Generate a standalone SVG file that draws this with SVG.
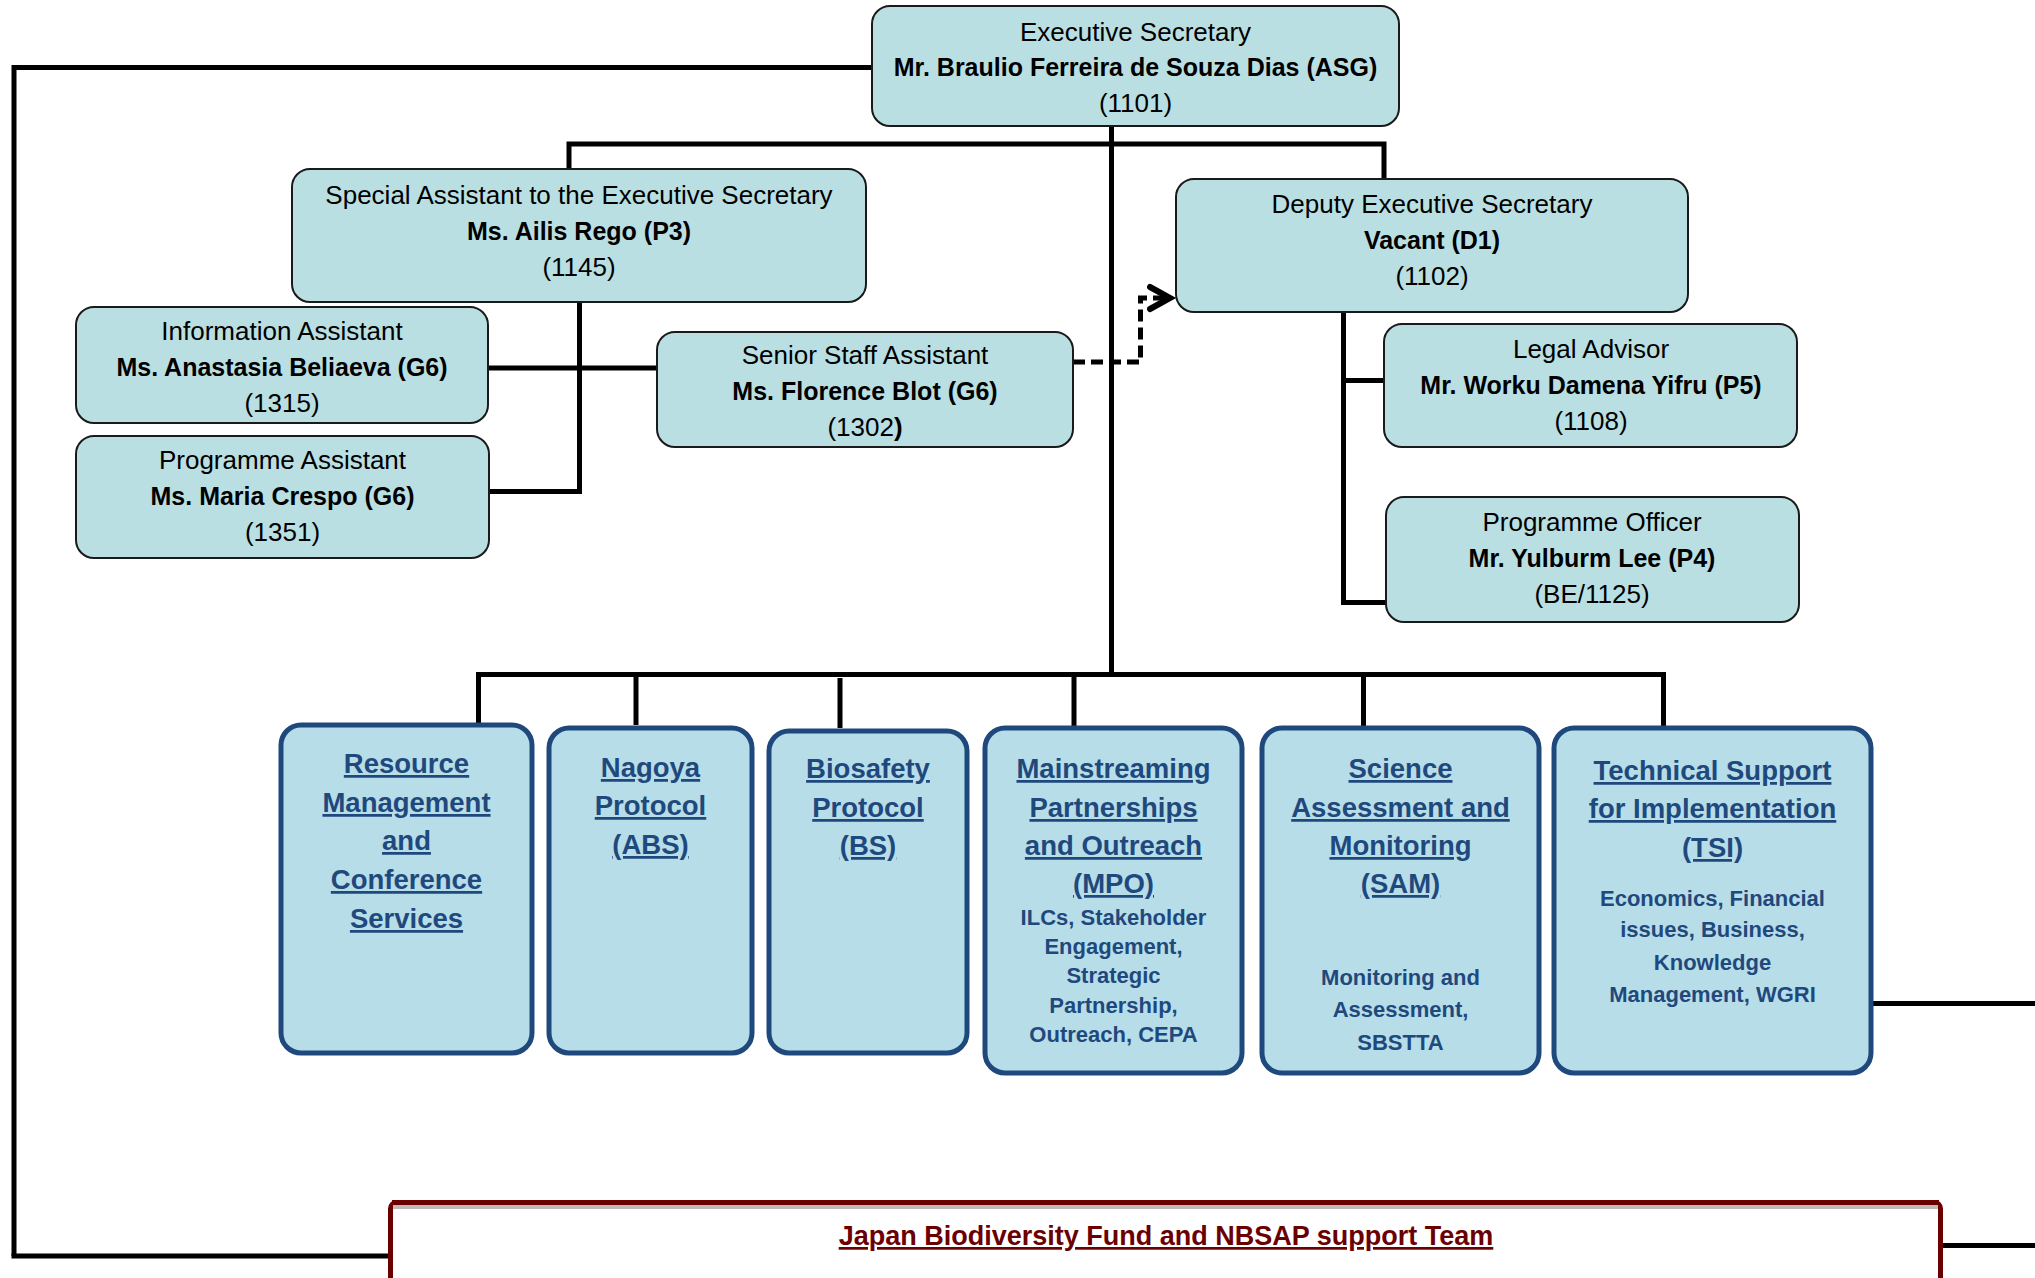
<svg xmlns="http://www.w3.org/2000/svg" width="2035" height="1278" viewBox="0 0 2035 1278">
<style>
.box{fill:#BADFE2;stroke:#1a1a1a;stroke-width:2}
.ubox{fill:#B7DDE8;stroke:#1F497D;stroke-width:5}
.t{font-family:"Liberation Sans",Arial,sans-serif;font-size:26px;fill:#000;text-anchor:middle}
.b{font-weight:bold;font-size:25px}
.ut{font-family:"Liberation Sans",Arial,sans-serif;font-weight:bold;font-size:27.5px;fill:#1F497D;text-anchor:middle;text-decoration:underline}
.st{font-family:"Liberation Sans",Arial,sans-serif;font-weight:bold;font-size:22px;fill:#1F497D;text-anchor:middle}
.ln{fill:none;stroke:#000;stroke-width:5}
</style>
<defs>
<marker id="chev" markerUnits="userSpaceOnUse" markerWidth="30" markerHeight="30" refX="23" refY="15" orient="auto" viewBox="0 0 30 30">
<polyline points="3,4 23,15 3,26" fill="none" stroke="#000" stroke-width="6" stroke-linecap="round" stroke-linejoin="miter"/>
</marker>
</defs>
<g id="connectors">
<path class="ln" d="M872,67.5 H14 V1256"/>
<path class="ln" stroke-width="7" d="M11.5,1256 H389"/>
<path class="ln" d="M1111.5,126 V674.5"/>
<path class="ln" d="M569,168 V144 H1384 V179"/>
<path class="ln" d="M579.5,302 V491.5 H489"/>
<path class="ln" d="M488,368 H657"/>
<path class="ln" d="M1343.5,312 V602.5 H1386"/>
<path class="ln" d="M1343.5,380.5 H1384"/>
<path class="ln" d="M1073,362 H1140.5 V298 H1170" stroke-dasharray="12 6" marker-end="url(#chev)"/>
<path class="ln" stroke-width="6" d="M478.5,725 V674.5 H1663.5 V728"/>
<path class="ln" d="M636,674.5 V725"/>
<path class="ln" d="M840,678 V728"/>
<path class="ln" d="M1074,674.5 V728"/>
<path class="ln" d="M1363.5,674.5 V728"/>
<path class="ln" stroke-width="7" d="M1871,1003.5 H2035"/>
<path class="ln" stroke-width="7" d="M1941,1245.5 H2035"/>
</g>
<g id="exec">
<rect class="box" x="872" y="6" width="527" height="120" rx="18"/>
<text class="t" x="1135.5" y="41">Executive Secretary</text>
<text class="t b" x="1135.5" y="76">Mr. Braulio Ferreira de Souza Dias (ASG)</text>
<text class="t" x="1135.5" y="112">(1101)</text>
</g>
<g id="special">
<rect class="box" x="292" y="169" width="574" height="133" rx="18"/>
<text class="t" x="579" y="204">Special Assistant to the Executive Secretary</text>
<text class="t b" x="579" y="240">Ms. Ailis Rego (P3)</text>
<text class="t" x="579" y="276">(1145)</text>
</g>
<g id="deputy">
<rect class="box" x="1176" y="179" width="512" height="133" rx="18"/>
<text class="t" x="1432" y="213">Deputy Executive Secretary</text>
<text class="t b" x="1432" y="249">Vacant (D1)</text>
<text class="t" x="1432" y="285">(1102)</text>
</g>
<g id="info">
<rect class="box" x="76" y="307" width="412" height="116" rx="18"/>
<text class="t" x="282" y="340">Information Assistant</text>
<text class="t b" x="282" y="376">Ms. Anastasia Beliaeva (G6)</text>
<text class="t" x="282" y="412">(1315)</text>
</g>
<g id="progasst">
<rect class="box" x="76" y="436" width="413" height="122" rx="18"/>
<text class="t" x="282.5" y="469">Programme Assistant</text>
<text class="t b" x="282.5" y="505">Ms. Maria Crespo (G6)</text>
<text class="t" x="282.5" y="541">(1351)</text>
</g>
<g id="senior">
<rect class="box" x="657" y="332" width="416" height="115" rx="18"/>
<text class="t" x="865" y="364">Senior Staff Assistant</text>
<text class="t b" x="865" y="400">Ms. Florence Blot (G6)</text>
<text class="t" x="865" y="436">(1302<tspan font-weight="bold">)</tspan></text>
</g>
<g id="legal">
<rect class="box" x="1384" y="324" width="413" height="123" rx="18"/>
<text class="t" x="1591" y="358">Legal Advisor</text>
<text class="t b" x="1591" y="394">Mr. Worku Damena Yifru (P5)</text>
<text class="t" x="1591" y="430">(1108)</text>
</g>
<g id="progofficer">
<rect class="box" x="1386" y="497" width="413" height="125" rx="18"/>
<text class="t" x="1592" y="531">Programme Officer</text>
<text class="t b" x="1592" y="567">Mr. Yulburm Lee (P4)</text>
<text class="t" x="1592" y="603">(BE/1125)</text>
</g>
<g id="rmcs">
<rect class="ubox" x="281" y="725" width="251" height="328" rx="20"/>
<text class="ut" x="406.5" y="773">Resource</text>
<text class="ut" x="406.5" y="812">Management</text>
<text class="ut" x="406.5" y="850">and</text>
<text class="ut" x="406.5" y="889">Conference</text>
<text class="ut" x="406.5" y="928">Services</text>
</g>
<g id="abs">
<rect class="ubox" x="549" y="728" width="203" height="325" rx="20"/>
<text class="ut" x="650.5" y="777">Nagoya</text>
<text class="ut" x="650.5" y="815">Protocol</text>
<text class="ut" x="650.5" y="854">(ABS)</text>
</g>
<g id="bs">
<rect class="ubox" x="769" y="731" width="198" height="322" rx="20"/>
<text class="ut" x="868" y="778">Biosafety</text>
<text class="ut" x="868" y="817">Protocol</text>
<text class="ut" x="868" y="855">(BS)</text>
</g>
<g id="mpo">
<rect class="ubox" x="985" y="728" width="257" height="345" rx="20"/>
<text class="ut" x="1113.5" y="778">Mainstreaming</text>
<text class="ut" x="1113.5" y="817">Partnerships</text>
<text class="ut" x="1113.5" y="855">and Outreach</text>
<text class="ut" x="1113.5" y="893">(MPO)</text>
<text class="st" x="1113.5" y="925" font-size="19">ILCs, Stakeholder</text>
<text class="st" x="1113.5" y="954" font-size="19">Engagement,</text>
<text class="st" x="1113.5" y="983" font-size="19">Strategic</text>
<text class="st" x="1113.5" y="1013" font-size="19">Partnership,</text>
<text class="st" x="1113.5" y="1042" font-size="19">Outreach, CEPA</text>
</g>
<g id="sam">
<rect class="ubox" x="1262" y="728" width="277" height="345" rx="20"/>
<text class="ut" x="1400.5" y="778">Science</text>
<text class="ut" x="1400.5" y="817">Assessment and</text>
<text class="ut" x="1400.5" y="855">Monitoring</text>
<text class="ut" x="1400.5" y="893">(SAM)</text>
<text class="st" x="1400.5" y="985" font-size="23.5">Monitoring and</text>
<text class="st" x="1400.5" y="1017" font-size="23.5">Assessment,</text>
<text class="st" x="1400.5" y="1050" font-size="23.5">SBSTTA</text>
</g>
<g id="tsi">
<rect class="ubox" x="1554" y="728" width="317" height="345" rx="20"/>
<text class="ut" x="1712.5" y="780">Technical Support</text>
<text class="ut" x="1712.5" y="818">for Implementation</text>
<text class="ut" x="1712.5" y="857">(TSI)</text>
<text class="st" x="1712.5" y="906">Economics, Financial</text>
<text class="st" x="1712.5" y="937">issues, Business,</text>
<text class="st" x="1712.5" y="970">Knowledge</text>
<text class="st" x="1712.5" y="1002">Management, WGRI</text>
</g>
<g id="japan">
<rect x="390.5" y="1202.5" width="1550" height="100" rx="6" fill="#fff" stroke="#6B0000" stroke-width="5"/>
<rect x="392" y="1200" width="1547" height="5" fill="#6B0000"/>
<rect x="393" y="1205" width="1545" height="4" fill="#BBBBBB"/>
<text x="1166" y="1245" font-family="Liberation Sans, Arial, sans-serif" font-weight="bold" font-size="27" fill="#6B0000" text-anchor="middle" text-decoration="underline">Japan Biodiversity Fund and NBSAP support Team</text>
</g>
</svg>
